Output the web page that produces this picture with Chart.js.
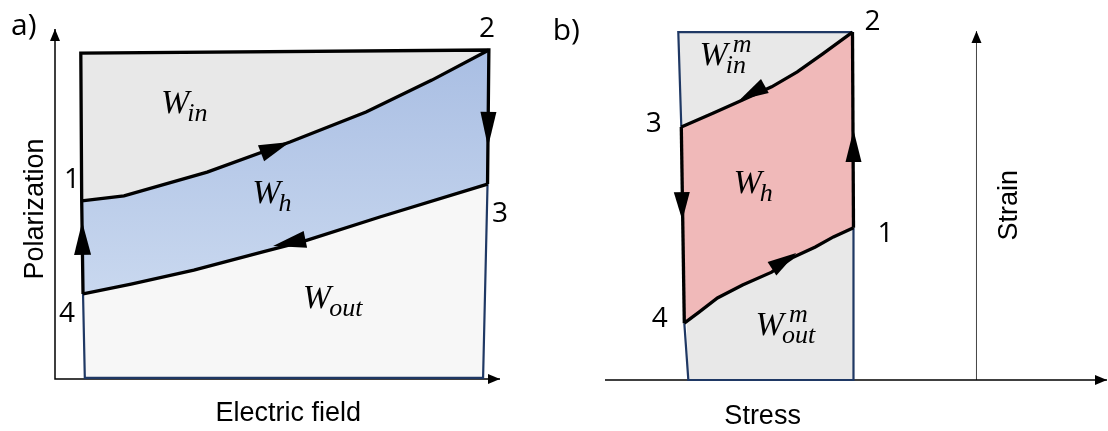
<!DOCTYPE html>
<html><head><meta charset="utf-8">
<script src="https://cdn.jsdelivr.net/npm/chart.js@4/dist/chart.umd.min.js"></script>
<style>
html,body{margin:0;padding:0;background:#fff;}
#wrap{position:relative;width:1108px;height:431px;overflow:hidden;}
#ca{position:absolute;left:0;top:0;}
#cb{position:absolute;left:540px;top:0;}
</style></head><body>
<div id="wrap"><canvas id="ca" width="540" height="431"></canvas><canvas id="cb" width="568" height="431"></canvas></div>
<script>
// ---------- Panel a) : Polarization vs Electric field ----------
const fieldUpper = [0.60, 1.55, 3.42, 5.28, 6.99, 8.47, 9.75];   // path 1 -> 2
const polUpper   = [5.09, 5.23, 5.91, 6.77, 7.63, 8.54, 9.40];
const fieldLower = [0.63, 1.71, 3.12, 4.67, 5.60, 7.30, 9.72];   // path 4 -> 3
const polLower   = [2.43, 2.71, 3.11, 3.63, 3.94, 4.63, 5.57];
const fieldBox   = [0.58, 9.75, 9.62, 0.67];                     // TL, TR, BR, BL
const polBox     = [9.31, 9.40, 0.03, 0.03];

// ---------- Panel b) : Strain vs Stress ----------
const stressUpper = [-5.88, -5.24, -4.66, -4.08, -3.57, -3.07, -2.47];  // path 3 -> 2
const strainUpper = [7.25, 7.65, 8.02, 8.40, 8.83, 9.34, 9.97];
const stressLower = [-5.82, -5.52, -5.16, -4.66, -4.08, -3.65, -3.21, -2.85, -2.45]; // path 4 -> 1
const strainLower = [1.63, 1.95, 2.35, 2.72, 3.09, 3.52, 3.81, 4.10, 4.36];
const stressBox   = [-5.94, -2.47, -2.45, -5.74];                  // TL, TR, BR, BL
const strainBox   = [9.97, 9.97, 0.00, 0.00];

const pointNames = ['1', '2', '3', '4'];
const axisTitlesA = ['Electric field', 'Polarization'];
const axisTitlesB = ['Stress', 'Strain'];
const panelNames = ['a)', 'b)'];

// ---------- helpers ----------
const pts = (xs, ys) => xs.map((x, i) => ({x, y: ys[i]}));
const rev = a => a.slice().reverse();

const BLACK = '#000000', NAVY = '#1f3864';

function lineDs(data, color, width, order) {
  return {data, showLine: true, borderColor: color, borderWidth: width, pointRadius: 0,
          fill: false, tension: 0, order, clip: false, borderJoinStyle: 'miter', borderCapStyle: 'butt'};
}
function fillDs(data, color, order) {
  return {data, showLine: true, borderWidth: 0, borderColor: 'rgba(0,0,0,0)', pointRadius: 0,
          fill: 'shape', backgroundColor: color, tension: 0, order, clip: false};
}

// decoration plugin: arrowheads and text, all placed through the chart scales
const decor = {
  id: 'decor',
  afterDatasetsDraw(chart, args, opts) {
    const {ctx} = chart;
    const sx = chart.scales.x, sy = chart.scales.y;
    const X = v => sx.getPixelForValue(v), Y = v => sy.getPixelForValue(v);
    ctx.save();
    (opts.arrows || []).forEach(a => {
      const tx = X(a.tip[0]), ty = Y(a.tip[1]);
      const fx = X(a.from[0]), fy = Y(a.from[1]);
      let dx = tx - fx, dy = ty - fy; const L = Math.hypot(dx, dy); dx /= L; dy /= L;
      const bx = tx - dx * a.len, by = ty - dy * a.len;
      const nx = -dy * a.w / 2, ny = dx * a.w / 2;
      ctx.beginPath();
      ctx.moveTo(tx, ty); ctx.lineTo(bx + nx, by + ny); ctx.lineTo(bx - nx, by - ny);
      ctx.closePath(); ctx.fillStyle = a.color || '#000'; ctx.fill();
    });
    (opts.texts || []).forEach(t => {
      ctx.save();
      ctx.font = t.font; ctx.fillStyle = '#000';
      ctx.textAlign = 'center'; ctx.textBaseline = 'alphabetic';
      ctx.translate(X(t.at[0]), Y(t.at[1]));
      if (t.rot) ctx.rotate(t.rot);
      ctx.fillText(t.text, 0, 0);
      ctx.restore();
    });
    (opts.wlabels || []).forEach(w => {
      const px = X(w.at[0]), py = Y(w.at[1]);
      ctx.fillStyle = '#000'; ctx.textAlign = 'left'; ctx.textBaseline = 'alphabetic';
      ctx.font = 'italic 34px "Liberation Serif"';
      ctx.fillText('W', px, py);
      const ww = ctx.measureText('W').width;
      ctx.font = 'italic 26px "Liberation Serif"';
      if (w.sub) ctx.fillText(w.sub, px + ww - 2, py + 8);
      if (w.sup) ctx.fillText(w.sup, px + ww + 5, py - 13);
    });
    ctx.restore();
  }
};

function baseOptions(pad, xmin, xmax, ymin, ymax, decorOpts) {
  return {
    responsive: false, animation: false, devicePixelRatio: 1,
    layout: {padding: pad},
    scales: {
      x: {type: 'linear', display: false, min: xmin, max: xmax},
      y: {type: 'linear', display: false, min: ymin, max: ymax}
    },
    plugins: {legend: {display: false}, tooltip: {enabled: false}, title: {display: false}, decor: decorOpts},
    events: []
  };
}

const NUMF = '28px "Open Sans"';
const AXF = '27px "Liberation Sans"';
const PANF = '30px "Open Sans"';

// ---------- Chart a ----------
const upA = pts(fieldUpper, polUpper), lowA = pts(fieldLower, polLower), boxA = pts(fieldBox, polBox);
const P1a = upA[0], P2a = upA[upA.length - 1], P4a = lowA[0], P3a = lowA[lowA.length - 1];

new Chart(document.getElementById('ca'), {
  type: 'scatter',
  data: {datasets: [
    fillDs([boxA[0], ...rev(upA)], '#e8e8e8', 10),
    fillDs([...upA, ...rev(lowA)], (c) => {
      const ch = c.chart; if (!ch.chartArea) return '#b8cae8';
      const g = ch.ctx.createLinearGradient(0, ch.scales.y.getPixelForValue(9.4), 0, ch.scales.y.getPixelForValue(2.4));
      g.addColorStop(0, '#a9bee3'); g.addColorStop(1, '#c9d8ef'); return g;
    }, 10),
    fillDs([...lowA, boxA[2], boxA[3]], '#f7f7f7', 10),
    lineDs([{x: 0, y: 10}, {x: 0, y: 0}, {x: 10, y: 0}], BLACK, 1.5, 5),
    lineDs([P4a, boxA[3], boxA[2], P3a], NAVY, 2.2, 4),
    lineDs([P4a, P1a, boxA[0], boxA[1], P3a], BLACK, 3.3, 2),
    lineDs(upA, BLACK, 3.3, 2),
    lineDs(lowA, BLACK, 3.3, 2)
  ]},
  options: baseOptions({left: 55, right: 40, top: 29, bottom: 52}, 0, 10, 0, 10, {
    arrows: [
      {tip: [0, 10], from: [0, 9], len: 12, w: 10},
      {tip: [10, 0], from: [9, 0], len: 12, w: 10},
      {tip: [0.61, 4.49], from: [0.62, 3.54], len: 33, w: 17},
      {tip: [5.28, 6.77], from: [4.65, 6.46], len: 31, w: 17},
      {tip: [4.90, 3.80], from: [5.66, 4.00], len: 33, w: 17},
      {tip: [9.73, 6.63], from: [9.74, 7.63], len: 35, w: 16}
    ],
    texts: [
      {text: pointNames[0], at: [0.38, 5.46], font: NUMF},
      {text: pointNames[1], at: [9.71, 9.77], font: NUMF},
      {text: pointNames[2], at: [10.0, 4.49], font: NUMF},
      {text: pointNames[3], at: [0.27, 1.63], font: NUMF},
      {text: panelNames[0], at: [-0.70, 9.83], font: PANF},
      {text: axisTitlesA[0], at: [5.24, -1.20], font: AXF},
      {text: axisTitlesA[1], at: [-0.27, 4.86], font: AXF, rot: -Math.PI / 2}
    ],
    wlabels: [
      {at: [2.38, 7.60], sub: 'in'},
      {at: [4.43, 5.03], sub: 'h'},
      {at: [5.57, 2.03], sub: 'out'}
    ]
  }),
  plugins: [decor]
});

// ---------- Chart b ----------
const upB = pts(stressUpper, strainUpper), lowB = pts(stressLower, strainLower), boxB = pts(stressBox, strainBox);
const P3b = upB[0], P2b = upB[upB.length - 1], P4b = lowB[0], P1b = lowB[lowB.length - 1];

new Chart(document.getElementById('cb'), {
  type: 'scatter',
  data: {datasets: [
    fillDs([boxB[0], boxB[1], boxB[2], boxB[3]], '#e8e8e8', 10),
    fillDs([...upB, ...rev(lowB)], '#f0b9b9', 9),
    lineDs([{x: -7.4, y: 0}, {x: 2.6, y: 0}], BLACK, 1.5, 5),
    lineDs([{x: 0, y: 0}, {x: 0, y: 10}], '#444444', 1, 5),
    lineDs([P3b, boxB[0], P2b], NAVY, 2.2, 4),
    lineDs([P4b, boxB[3], boxB[2], P1b], NAVY, 2.2, 4),
    lineDs(upB, BLACK, 3.3, 2),
    lineDs(lowB, BLACK, 3.3, 2),
    lineDs([P3b, P4b], BLACK, 3.3, 2),
    lineDs([P1b, P2b], BLACK, 3.3, 2)
  ]},
  options: baseOptions({left: 65, right: 1, top: 31, bottom: 51}, -7.4, 2.6, 0, 10, {
    arrows: [
      {tip: [2.6, 0], from: [1.6, 0], len: 12, w: 10},
      {tip: [0, 10], from: [0, 9], len: 12, w: 10},
      {tip: [-5.86, 4.58], from: [-5.87, 5.36], len: 28, w: 16},
      {tip: [-2.45, 7.16], from: [-2.45, 6.25], len: 32, w: 16},
      {tip: [-4.72, 8.02], from: [-4.22, 8.42], len: 29, w: 16},
      {tip: [-3.59, 3.64], from: [-4.08, 3.18], len: 29, w: 16}
    ],
    texts: [
      {text: pointNames[0], at: [-1.81, 3.95], font: NUMF},
      {text: pointNames[1], at: [-2.07, 10.03], font: NUMF},
      {text: pointNames[2], at: [-6.43, 7.11], font: NUMF},
      {text: pointNames[3], at: [-6.31, 1.52], font: NUMF},
      {text: panelNames[1], at: [-8.17, 9.74], font: PANF},
      {text: axisTitlesB[0], at: [-4.26, -1.26], font: AXF},
      {text: axisTitlesB[1], at: [0.80, 5.01], font: AXF, rot: -Math.PI / 2}
    ],
    wlabels: [
      {at: [-5.52, 9.03], sub: 'in', sup: 'm'},
      {at: [-4.84, 5.36], sub: 'h'},
      {at: [-4.40, 1.29], sub: 'out', sup: 'm'}
    ]
  }),
  plugins: [decor]
});
</script>
</body></html>
